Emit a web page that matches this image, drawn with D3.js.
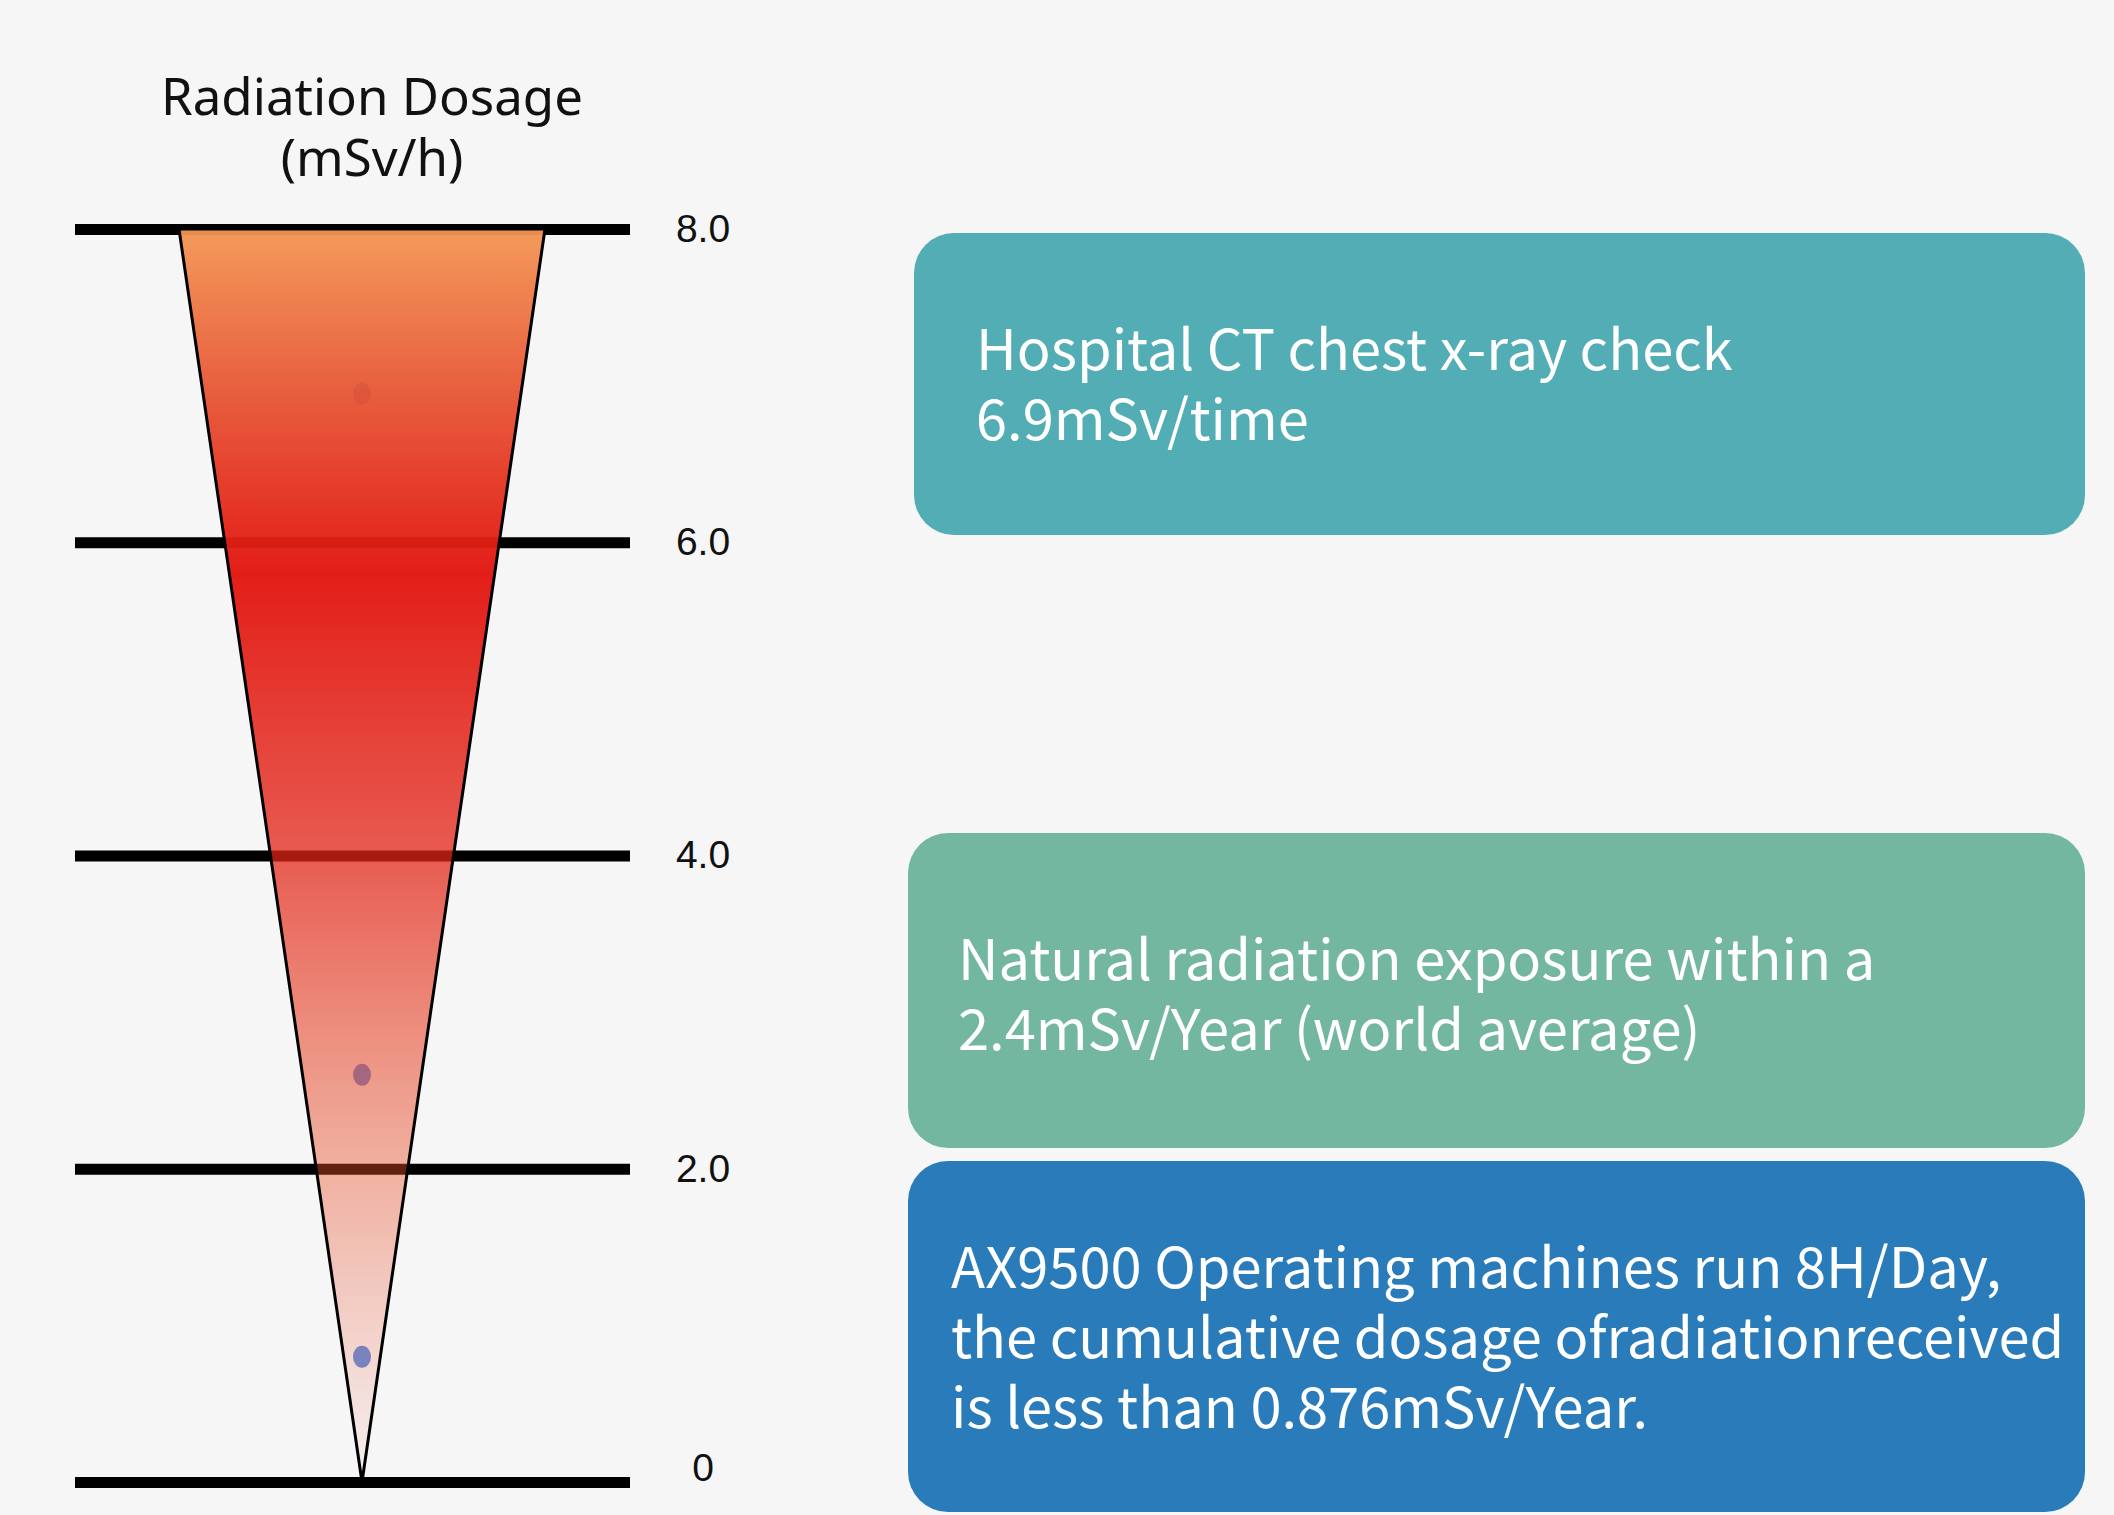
<!DOCTYPE html>
<html>
<head>
<meta charset="utf-8">
<script src="https://cdn.jsdelivr.net/npm/d3@7"></script>
<style>
  body { margin: 0; background: #f6f6f6; }
  svg { display: block; }
</style>
</head>
<body>
<div id="chart-area"></div>
<script>

// Data
var tickValues = [0, 2, 4, 6, 8];
var tickLabels = ["0", "2.0", "4.0", "6.0", "8.0"];
var titleLines = ["Radiation Dosage", "(mSv/h)"];

// gradient of the cone, by dosage value
var gradValues = [8, 7, 5.8, 4, 2, 0];
var gradColors = ["#f49653", "#e75532", "#e2150f", "#e22416", "#e84f29", "#e85030"];
var gradOpacity = [0.95, 0.93, 0.96, 0.74, 0.42, 0.03];

// markers
var dotValues = [6.95, 2.6, 0.8];

var boxTexts = [
    ["Hospital CT chest x-ray check", "6.9mSv/time"],
    ["Natural radiation exposure within a", "2.4mSv/Year (world average)"],
    ["AX9500 Operating machines run 8H/Day,", "the cumulative dosage ofradiationreceived", "is less than 0.876mSv/Year."]
];
var boxColors = ["#52adb5", "#74b7a0", "#297bb9"];

// Layout
var width = 2114, height = 1515;
var lineLeft = 75, lineRight = 630, coneX = 362;
var boxLayout = [
    { x: 914, y: 233, w: 1171, h: 302, tx: 976, ty: 370 },
    { x: 908, y: 833, w: 1177, h: 315, tx: 958, ty: 980 },
    { x: 908, y: 1161, w: 1177, h: 351, tx: 951, ty: 1288 }
];

var svg = d3.select("#chart-area").append("svg")
    .attr("width", width)
    .attr("height", height);

svg.append("rect")
    .attr("width", width)
    .attr("height", height)
    .attr("fill", "#f6f6f6");

// Scales
var y = d3.scaleLinear().domain([0, 8]).range([1482, 229]);
var halfWidth = d3.scaleLinear().domain([0, 8]).range([0, 183]);

// Title
svg.append("text")
    .attr("x", 372)
    .attr("y", 115)
    .attr("text-anchor", "middle")
    .attr("font-family", "'Noto Sans', sans-serif")
    .attr("font-size", "51px")
    .attr("fill", "#111")
    .selectAll("tspan")
    .data(titleLines)
    .enter().append("tspan")
        .attr("x", 372)
        .attr("dy", function(d, i){ return i ? 61 : 0; })
        .text(function(d){ return d; });

// Axis: the thick horizontal bars plus labels
var yAxisCall = d3.axisRight(y)
    .tickValues(tickValues)
    .tickFormat(function(d, i){ return tickLabels[i]; })
    .tickSize(lineRight - lineLeft)
    .tickPadding(73);

var yAxis = svg.append("g")
    .attr("class", "y axis")
    .attr("transform", "translate(" + lineLeft + ",0)")
    .call(yAxisCall);

yAxis.select(".domain").remove();
yAxis.selectAll(".tick line")
    .attr("stroke", "#000")
    .attr("stroke-width", 11);
yAxis.selectAll(".tick text")
    .attr("text-anchor", "middle")
    .attr("font-family", "'Liberation Sans', Arial, sans-serif")
    .attr("font-size", "39px")
    .attr("fill", "#111")
    .attr("dy", function(d){ return d === 0 ? "-0.05em" : "0.32em"; });

// Gradient
var defs = svg.append("defs");
var grad = defs.append("linearGradient")
    .attr("id", "coneGrad")
    .attr("gradientUnits", "userSpaceOnUse")
    .attr("x1", 0).attr("x2", 0)
    .attr("y1", y(8)).attr("y2", y(0));

grad.selectAll("stop")
    .data(gradValues)
    .enter().append("stop")
        .attr("offset", function(d){ return (y(d) - y(8)) / (y(0) - y(8)); })
        .attr("stop-color", function(d, i){ return gradColors[i]; })
        .attr("stop-opacity", function(d, i){ return gradOpacity[i]; });

// Markers sit under the cone
svg.selectAll(".dot")
    .data(dotValues)
    .enter().append("ellipse")
        .attr("class", "dot")
        .attr("cx", coneX)
        .attr("cy", function(d){ return y(d); })
        .attr("rx", 9)
        .attr("ry", 11)
        .attr("fill", "#5f8ee0");

// Cone
var conePoints = [
    [coneX - halfWidth(8), y(8)],
    [coneX + halfWidth(8), y(8)],
    [coneX, y(0)]
];

svg.append("path")
    .attr("d", d3.line()(conePoints) + "Z")
    .attr("fill", "url(#coneGrad)")
    .attr("stroke", "#000")
    .attr("stroke-width", 3)
    .attr("stroke-linejoin", "miter");

// Info boxes
var boxes = svg.selectAll(".box")
    .data(boxTexts)
    .enter().append("g")
        .attr("class", "box");

boxes.append("rect")
    .attr("x", function(d, i){ return boxLayout[i].x; })
    .attr("y", function(d, i){ return boxLayout[i].y; })
    .attr("width", function(d, i){ return boxLayout[i].w; })
    .attr("height", function(d, i){ return boxLayout[i].h; })
    .attr("rx", 40)
    .attr("ry", 40)
    .attr("fill", function(d, i){ return boxColors[i]; });

boxes.each(function(lines, i){
    var b = boxLayout[i];
    d3.select(this).append("text")
        .attr("x", b.tx)
        .attr("y", b.ty)
        .attr("font-family", "'Noto Sans CJK SC', sans-serif")
        .attr("font-size", "56px")
        .attr("fill", "#fff")
        .selectAll("tspan")
        .data(lines)
        .enter().append("tspan")
            .attr("x", b.tx)
            .attr("dy", function(d, j){ return j ? 70 : 0; })
            .text(function(d){ return d; });
});

</script>
</body>
</html>
